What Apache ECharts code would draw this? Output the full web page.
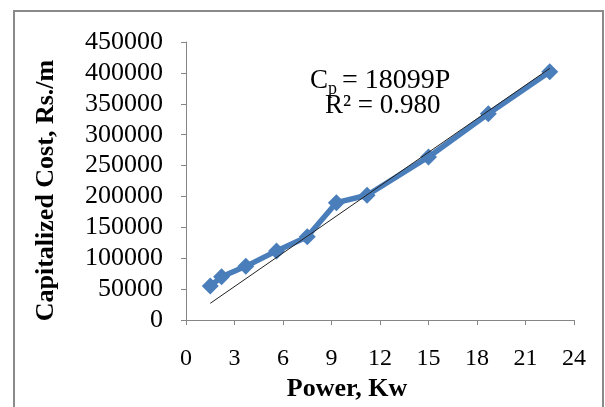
<!DOCTYPE html>
<html>
<head>
<meta charset="utf-8">
<script src="https://cdn.jsdelivr.net/npm/echarts@6/dist/echarts.min.js"></script>
<style>
html,body{margin:0;padding:0;background:#fff;}
#chart{width:605px;height:407px;}
</style>
</head>
<body>
<div id="chart"></div>
<script>
// Data
const powerKw = [1.5, 2.2, 3.7, 5.6, 7.5, 9.3, 11.2, 15, 18.7, 22.5];
const capCost = [55000, 70000, 87000, 112000, 135000, 190000, 202000, 264000, 334000, 402000];
const trendSlope = 18099;
const xTicks = [0, 3, 6, 9, 12, 15, 18, 21, 24];
const yTicks = [0, 50000, 100000, 150000, 200000, 250000, 300000, 350000, 400000, 450000];
const eqMain = 'C';
const eqSub = 'p';
const eqRest = '= 18099P';
const eqLine2 = 'R² = 0.980';

const seriesData = powerKw.map((x, i) => [x, capCost[i]]);
const xFirst = powerKw[0], xLast = powerKw[powerKw.length - 1];
const trendData = [[xFirst, trendSlope * xFirst], [xLast, trendSlope * xLast]];

const serif = '"Liberation Serif", "Times New Roman", serif';
const axisGray = '#868686';

const chart = echarts.init(document.getElementById('chart'), null, {renderer: 'canvas'});
chart.setOption({
  animation: false,
  backgroundColor: '#fff',
  grid: {left: 186, right: 31, top: 42, bottom: 84, containLabel: false},
  xAxis: {
    type: 'value',
    min: xTicks[0], max: xTicks[xTicks.length - 1], interval: 3,
    name: 'Power, Kw',
    nameLocation: 'middle',
    nameGap: 52,
    nameTextStyle: {fontFamily: serif, fontWeight: 'bold', fontSize: 26, color: '#000', padding: [0, 66, 0, 0]},
    axisLine: {show: true, lineStyle: {color: axisGray, width: 1}},
    axisTick: {show: true, inside: false, length: 5, lineStyle: {color: axisGray}},
    axisLabel: {fontFamily: serif, fontSize: 24, color: '#000', margin: 27},
    splitLine: {show: false}
  },
  yAxis: {
    type: 'value',
    min: yTicks[0], max: yTicks[yTicks.length - 1], interval: 50000,
    name: 'Capitalized Cost, Rs./m',
    nameLocation: 'middle',
    nameGap: 127,
    nameTextStyle: {fontFamily: serif, fontWeight: 'bold', fontSize: 26, color: '#000', padding: [0, 19, 0, 0]},
    axisLine: {show: true, lineStyle: {color: axisGray, width: 1}},
    axisTick: {show: true, inside: false, length: 5, lineStyle: {color: axisGray}},
    axisLabel: {fontFamily: serif, fontSize: 26, color: '#000', margin: 23, formatter: v => String(v)},
    splitLine: {show: false}
  },
  graphic: [
    {
      type: 'rect', silent: true, z: -1,
      shape: {x: 14, y: 11, width: 589, height: 420},
      style: {fill: 'none', stroke: '#8a8a8a', lineWidth: 2}
    },
    {
      type: 'text', x: 310, y: 81, silent: true,
      style: {text: eqMain, fontFamily: serif, fontSize: 27, fill: '#000', verticalAlign: 'middle'}
    },
    {
      type: 'text', x: 328, y: 89, silent: true,
      style: {text: eqSub, fontFamily: serif, fontSize: 18, fill: '#000', verticalAlign: 'middle'}
    },
    {
      type: 'text', x: 342, y: 81, silent: true,
      style: {text: eqRest, fontFamily: serif, fontSize: 28, fill: '#000', verticalAlign: 'middle'}
    },
    {
      type: 'text', x: 325, y: 106, silent: true,
      style: {text: eqLine2, fontFamily: serif, fontSize: 27, fill: '#000', verticalAlign: 'middle'}
    }
  ],
  series: [
    {
      type: 'line',
      data: seriesData,
      symbol: 'diamond',
      symbolSize: 17,
      itemStyle: {color: '#4a7ebb'},
      lineStyle: {color: '#4a7ebb', width: 5.5},
      z: 2
    },
    {
      type: 'line',
      data: trendData,
      symbol: 'none',
      lineStyle: {color: '#222', width: 1},
      z: 3
    }
  ]
});
</script>
</body>
</html>
